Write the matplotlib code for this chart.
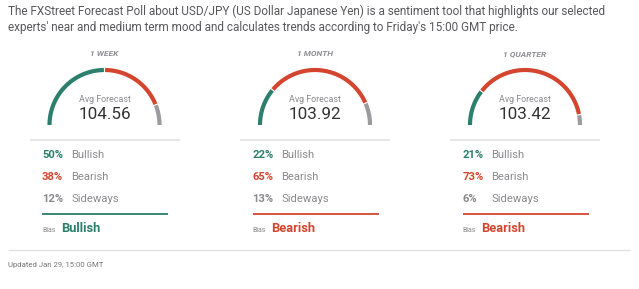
import numpy as np
import matplotlib
matplotlib.use("Agg")
import matplotlib.pyplot as plt

plt.rcParams['font.family'] = ['Roboto', 'DejaVu Sans']

# Poll data
horizons = ["1 WEEK", "1 MONTH", "1 QUARTER"]
avg_forecast = [104.56, 103.92, 103.42]
bullish = [50, 22, 21]
bearish = [38, 65, 73]
sideways = [12, 13, 6]
bias = ["Bullish", "Bearish", "Bearish"]

intro_lines = [
    "The FXStreet Forecast Poll about USD/JPY (US Dollar Japanese Yen) is a sentiment tool that highlights our selected",
    "experts' near and medium term mood and calculates trends according to Friday's 15:00 GMT price.",
]
updated = "Updated Jan 29, 15:00 GMT"

GREEN = "#2b7f6c"
RED = "#d4452f"
GRAY = "#9b9b9e"
TEXT = "#58585c"
LABEL = "#8a8a8e"
RULE = "#e2e2e2"

W, H = 639, 289
fig = plt.figure(figsize=(W / 100, H / 100), dpi=100)
ax = fig.add_axes([0, 0, 1, 1])
ax.set_xlim(0, W)
ax.set_ylim(H, 0)
ax.axis("off")

# Intro paragraph, sized so the first line spans the text column
renderer = fig.canvas.get_renderer()
probe = ax.text(8, 11, intro_lines[0], fontsize=9.0, color=TEXT, va="center", ha="left")
width = probe.get_window_extent(renderer).width
intro_size = 9.0 * 604.0 / width
probe.remove()
for k, line in enumerate(intro_lines):
    ax.text(8, 11 + 17 * k, line, fontsize=intro_size, color=TEXT,
            va="center", ha="left")

centers = [104.5, 315, 525]
cy = 125
r = 55
gap = 1.2  # degrees of white between segments

for i, cx in enumerate(centers):
    shares = [bullish[i], bearish[i], sideways[i]]
    colors = [GREEN, RED, GRAY]
    start = 180.0
    for s, c in zip(shares, colors):
        span = 180.0 * s / 100.0
        a0, a1 = start, start - span
        lo = a1 + (gap / 2 if a1 > 0.01 else 0)
        hi = a0 - (gap / 2 if a0 < 179.99 else 0)
        th = np.radians(np.linspace(hi, lo, 80))
        ax.plot(cx + r * np.cos(th), cy - r * np.sin(th), color=c, lw=3.0,
                solid_capstyle="butt")
        start = a1

    ax.text(cx, 54, horizons[i], fontsize=6.0, style="italic", fontweight="bold",
            color="#8f8f93", ha="center", va="center")
    ax.text(cx, 99, "Avg Forecast", fontsize=6.4, color=LABEL, ha="center", va="center")
    ax.text(cx, 114.5, f"{avg_forecast[i]:.2f}", fontsize=12.3, color="#333333",
            ha="center", va="center")

    left = cx - 75
    ax.plot([left, left + 150], [140, 140], color=RULE, lw=1.2, solid_capstyle="butt")

    px = cx - 62.5
    lx = px + 29
    rows = [(bullish[i], "Bullish", GREEN), (bearish[i], "Bearish", RED),
            (sideways[i], "Sideways", "#8a8a8e")]
    for j, (v, name, c) in enumerate(rows):
        y = 155 + j * 22
        ax.text(px, y, f"{v}%", fontsize=8.1, fontweight="bold", color=c,
                ha="left", va="center")
        ax.text(lx, y, name, fontsize=8.1, color=LABEL, ha="left", va="center")

    bc = GREEN if bias[i] == "Bullish" else RED
    ax.plot([px, px + 126], [214, 214], color=bc, lw=1.3, solid_capstyle="butt")
    ax.text(px, 230.5, "Bias", fontsize=5.0, color=LABEL, ha="left", va="center")
    ax.text(px + 19, 229, bias[i], fontsize=9.3, fontweight="bold", color=bc,
            ha="left", va="center")

ax.plot([8, 630], [250, 250], color=RULE, lw=1.0, solid_capstyle="butt")
ax.text(8, 265.5, updated, fontsize=5.6, color="#777777", ha="left", va="center")

fig.savefig("out.png", dpi=100, facecolor="white")
